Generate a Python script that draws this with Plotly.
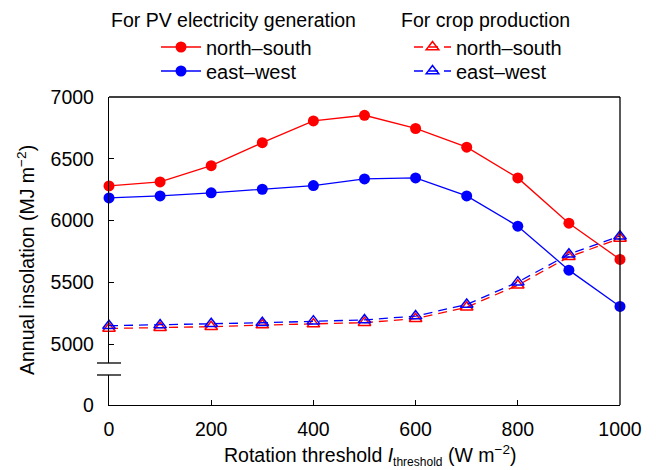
import plotly.graph_objects as go

# Data
thresholds = [0, 100, 200, 300, 400, 500, 600, 700, 800, 900, 1000]
pv_ns = [6280, 6312, 6444, 6630, 6806, 6852, 6745, 6594, 6345, 5978, 5685]
pv_ew = [6183, 6199, 6224, 6253, 6283, 6337, 6345, 6199, 5954, 5598, 5304]
crop_ns = [5126, 5132, 5140, 5153, 5161, 5173, 5205, 5298, 5476, 5706, 5854]
crop_ew = [5148, 5153, 5164, 5172, 5185, 5195, 5226, 5320, 5501, 5727, 5873]
x_ticks = [0, 200, 400, 600, 800, 1000]
y_ticks = [5000, 5500, 6000, 6500, 7000]

W, H = 656, 470
L, R, T, B = 109, 36, 97, 65
PW, PH = W - L - R, H - T - B
FONT = "Liberation Sans, Arial, sans-serif"
FS = 19.5
LFS = 20

def py(px):
    return (H - B - px) / PH

def pxx(px):
    return (px - L) / PW

break_top, break_bot = 363, 375

fig = go.Figure()
common = dict(xaxis="x", yaxis="y", cliponaxis=False)
fig.add_trace(go.Scatter(x=thresholds, y=pv_ns, name="north\u2013south", mode="lines+markers",
                         line=dict(color="#ff0000", width=1.3),
                         marker=dict(symbol="circle", size=11, color="#ff0000"),
                         legend="legend", **common))
fig.add_trace(go.Scatter(x=thresholds, y=pv_ew, name="east\u2013west", mode="lines+markers",
                         line=dict(color="#0000ff", width=1.3),
                         marker=dict(symbol="circle", size=11, color="#0000ff"),
                         legend="legend2", **common))
fig.add_trace(go.Scatter(x=thresholds, y=crop_ns, name="north\u2013south", mode="lines+markers",
                         line=dict(color="#ff0000", width=1.3, dash="9px,6px"),
                         marker=dict(symbol="triangle-up-open", size=11, color="#ff0000",
                                     line=dict(width=1.5, color="#ff0000")),
                         legend="legend3", **common))
fig.add_trace(go.Scatter(x=thresholds, y=crop_ew, name="east\u2013west", mode="lines+markers",
                         line=dict(color="#0000ff", width=1.3, dash="9px,6px"),
                         marker=dict(symbol="triangle-up-open", size=11, color="#0000ff",
                                     line=dict(width=1.5, color="#0000ff")),
                         legend="legend4", **common))
# empty trace so that the lower (broken) axis segment subplot exists
fig.add_trace(go.Scatter(x=[None], y=[None], xaxis="x", yaxis="y2", showlegend=False,
                         hoverinfo="skip", mode="markers"))

y_top = 7000
scale = (344.3 - 97.3) / 2000.0
y_low = y_top - (break_top - T) / scale
y2_high = (H - B - break_bot) / scale

axis_common = dict(showline=True, linecolor="black", linewidth=1.3, ticks="inside",
                   ticklen=5, tickwidth=1.3, tickcolor="black", showgrid=False,
                   zeroline=False, tickfont=dict(family=FONT, size=FS, color="black"))

def leg(xpx, ypx, iw):
    return dict(xref="container", yref="container", x=xpx / W, y=1 - ypx / H,
                xanchor="left", yanchor="middle", bgcolor="rgba(0,0,0,0)",
                font=dict(family=FONT, size=LFS), itemwidth=iw, tracegroupgap=0)

fig.update_layout(
    width=W, height=H,
    margin=dict(l=L, r=R, t=T, b=B, autoexpand=False),
    paper_bgcolor="white", plot_bgcolor="white",
    font=dict(family=FONT, size=FS, color="black"),
    xaxis=dict(range=[0, 1000], tickvals=x_ticks, anchor="y2", ticklabelstandoff=6,
               **axis_common),
    yaxis=dict(range=[y_low, y_top], tickvals=y_ticks, domain=[py(break_top), 1],
               anchor="x", ticklabelstandoff=10, **axis_common),
    yaxis2=dict(range=[0, y2_high], tickvals=[0], domain=[0, py(break_bot)],
                anchor="x", ticklabelstandoff=10, **axis_common),
    legend=leg(156, 47, 40),
    legend2=leg(156, 71, 40),
    legend3=leg(409, 47, 37),
    legend4=leg(409, 71, 37),
    showlegend=True,
)

shapes = [
    dict(type="line", xref="paper", yref="paper", x0=0, x1=1, y0=1, y1=1,
         line=dict(color="black", width=1.3)),
    dict(type="line", xref="paper", yref="paper", x0=1, x1=1, y0=0, y1=1,
         line=dict(color="black", width=1.3)),
    dict(type="line", xref="paper", yref="paper", x0=pxx(97), x1=pxx(121),
         y0=py(break_top), y1=py(break_top), line=dict(color="black", width=1.3)),
    dict(type="line", xref="paper", yref="paper", x0=pxx(97), x1=pxx(121),
         y0=py(break_bot), y1=py(break_bot), line=dict(color="black", width=1.3)),
]
fig.update_layout(shapes=shapes)

annotations = [
    dict(text="For PV electricity generation", xref="paper", yref="paper",
         x=pxx(233), y=py(20), xanchor="center", yanchor="middle", showarrow=False,
         font=dict(family=FONT, size=FS)),
    dict(text="For crop production", xref="paper", yref="paper",
         x=pxx(485), y=py(20), xanchor="center", yanchor="middle", showarrow=False,
         font=dict(family=FONT, size=FS)),
    dict(text="Annual insolation (MJ m<sup>\u22122</sup>)", xref="paper", yref="paper",
         x=pxx(26), y=py(260), xanchor="center", yanchor="middle", textangle=-90,
         showarrow=False, font=dict(family=FONT, size=FS)),
    dict(text="Rotation threshold <i>I</i><sub><span style='font-size:12px'>threshold</span></sub>"
              " (W m<sup>\u22122</sup>)",
         xref="paper", yref="paper", x=pxx(370), y=py(455), xanchor="center",
         yanchor="middle", showarrow=False, font=dict(family=FONT, size=FS)),
]
fig.update_layout(annotations=annotations)

fig.write_html("out.html")
